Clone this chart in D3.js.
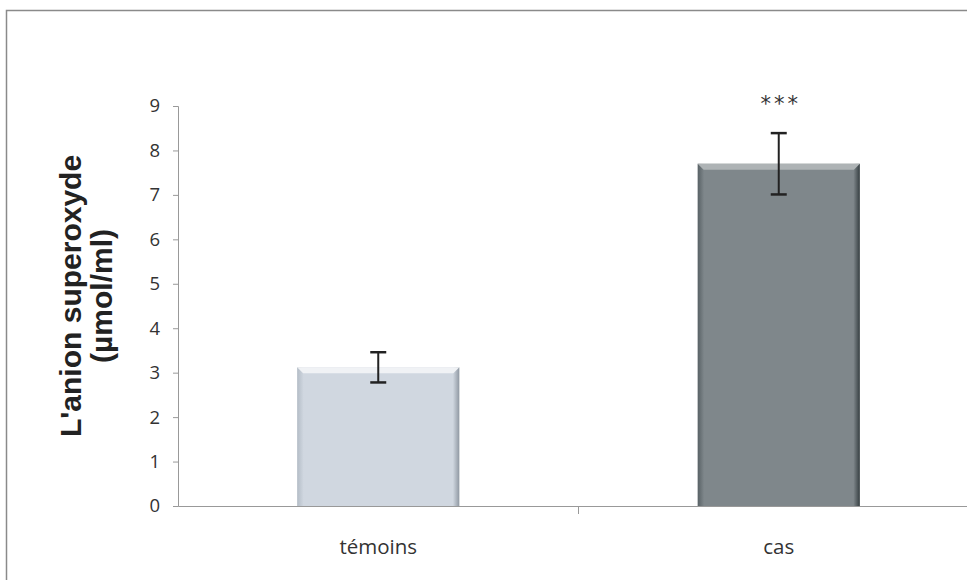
<!DOCTYPE html>
<html>
<head>
<meta charset="utf-8">
<script src="https://cdn.jsdelivr.net/npm/d3@7"></script>
<style>
  html, body { margin: 0; padding: 0; background: #fff; }
  svg { display: block; }
  .tick text { font-family: "Open Sans", sans-serif; fill: #333; }
</style>
</head>
<body>
<svg id="chart" width="967" height="580"></svg>
<script>
// Superoxide anion levels, controls vs. cases (mean ± SD)
const categories = ["témoins", "cas"];
const means = [3.12, 7.70];
const errors = [0.34, 0.69];
const significance = ["", "***"];
const yTicks = [0, 1, 2, 3, 4, 5, 6, 7, 8, 9];

const svg = d3.select("#chart");
const W = 967, H = 580;
const margin = { left: 178, right: -12, top: 106, bottom: 74 };

// Outer chart frame
svg.append("rect")
  .attr("x", 6.5).attr("y", 10.5)
  .attr("width", W + 20).attr("height", H + 20)
  .attr("fill", "none").attr("stroke", "#8a8a8a").attr("stroke-width", 1.5);

const x = d3.scaleBand()
  .domain(categories)
  .range([margin.left, W - margin.right])
  .paddingInner(0).paddingOuter(0);

const y = d3.scaleLinear()
  .domain([0, 9])
  .range([H - margin.bottom, margin.top]);

const defs = svg.append("defs");
const palettes = [
  { id: "g0", base: "#d0d7e0", light: "#f0f2f5", dark: "#8f98a2", side: "#b3bcc6" },
  { id: "g1", base: "#7f878b", light: "#aeb3b5", dark: "#353e41", side: "#586165" }
];
palettes.forEach(p => {
  const g = defs.append("linearGradient").attr("id", p.id)
    .attr("x1", 0).attr("x2", 1).attr("y1", 0).attr("y2", 0);
  g.append("stop").attr("offset", "0%").attr("stop-color", p.side);
  g.append("stop").attr("offset", "4%").attr("stop-color", p.base);
  g.append("stop").attr("offset", "96%").attr("stop-color", p.base);
  g.append("stop").attr("offset", "100%").attr("stop-color", p.dark);
});

const barW = x.bandwidth() * 0.405;
const bars = svg.append("g").selectAll("g")
  .data(categories.map((c, i) => ({ c, i, v: means[i], e: errors[i], s: significance[i] })))
  .join("g");

bars.append("rect")
  .attr("x", d => x(d.c) + x.bandwidth() / 2 - barW / 2)
  .attr("y", d => y(d.v))
  .attr("width", barW)
  .attr("height", d => y(0) - y(d.v))
  .attr("fill", d => `url(#${palettes[d.i].id})`);

// bevelled top edge
bars.append("path")
  .attr("d", d => {
    const x0 = x(d.c) + x.bandwidth() / 2 - barW / 2, x1 = x0 + barW, t = y(d.v), b = 6;
    return `M${x0},${t}L${x1},${t}L${x1 - b},${t + b}L${x0 + b},${t + b}Z`;
  })
  .attr("fill", d => palettes[d.i].light);

// error bars
const cap = 8;
bars.append("line")
  .attr("x1", d => x(d.c) + x.bandwidth() / 2).attr("x2", d => x(d.c) + x.bandwidth() / 2)
  .attr("y1", d => y(d.v + d.e)).attr("y2", d => y(d.v - d.e))
  .attr("stroke", "#222").attr("stroke-width", 2);
bars.selectAll("line.cap")
  .data(d => [d.v + d.e, d.v - d.e].map(v => ({ cx: x(d.c) + x.bandwidth() / 2, v })))
  .join("line").attr("class", "cap")
  .attr("x1", d => d.cx - cap).attr("x2", d => d.cx + cap)
  .attr("y1", d => y(d.v)).attr("y2", d => y(d.v))
  .attr("stroke", "#222").attr("stroke-width", 2.5);

// significance marks
bars.append("text")
  .attr("x", d => x(d.c) + x.bandwidth() / 2 + 2)
  .attr("y", d => y(d.v + d.e) - 22)
  .attr("text-anchor", "middle")
  .attr("font-family", "DejaVu Sans, sans-serif")
  .attr("font-size", 21).attr("letter-spacing", 3)
  .attr("fill", "#333")
  .text(d => d.s);

// y axis
const yAxis = svg.append("g")
  .attr("transform", `translate(${margin.left},0)`)
  .call(d3.axisLeft(y).tickValues(yTicks).tickSize(5).tickPadding(13));
yAxis.select(".domain").attr("stroke", "#999");
yAxis.selectAll(".tick line").attr("stroke", "#999");
yAxis.selectAll(".tick text").attr("font-size", 18.5);

// x axis
const xAxis = svg.append("g")
  .attr("transform", `translate(0,${y(0)})`)
  .call(d3.axisBottom(x).tickSize(0).tickPadding(33));
xAxis.select(".domain").attr("stroke", "#999");
xAxis.selectAll(".tick text").attr("font-size", 20.5);
// category dividers
xAxis.selectAll(".divider")
  .data(categories.slice(1))
  .join("line").attr("class", "divider")
  .attr("x1", d => x(d)).attr("x2", d => x(d))
  .attr("y1", 0).attr("y2", 8)
  .attr("stroke", "#999");

// y axis title
const title = svg.append("text")
  .attr("transform", `translate(87,${(y(0) + y(9)) / 2 - 10}) rotate(-90)`)
  .attr("text-anchor", "middle")
  .attr("font-family", "Liberation Sans, Arial, sans-serif")
  .attr("font-weight", "bold").attr("font-size", 30).attr("fill", "#222");
title.append("tspan").attr("x", 0).attr("dy", -6).text("L'anion superoxyde");
title.append("tspan").attr("x", 0).attr("dy", 31).text("(µmol/ml)");
</script>
</body>
</html>
